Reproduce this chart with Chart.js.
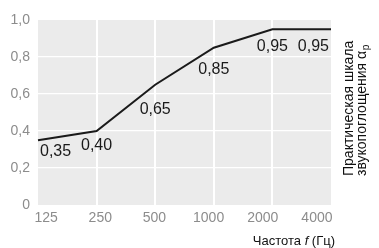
<!DOCTYPE html>
<html>
<head>
<meta charset="utf-8">
<script src="https://cdn.jsdelivr.net/npm/chart.js@4/dist/chart.umd.min.js"></script>
<style>
  html, body { margin: 0; padding: 0; background: #fff; }
  #wrap { width: 379px; height: 248px; position: relative; }
</style>
</head>
<body>
<div id="wrap"><canvas id="chart"></canvas></div>
<script>
// chart data
const frequencies = ["125", "250", "500", "1000", "2000", "4000"];
const absorption = [0.35, 0.40, 0.65, 0.85, 0.95, 0.95];
const yTickValues = [0, 0.2, 0.4, 0.6, 0.8, 1.0];

// texts
const xTitleParts = ["Частота ", "f", " (Гц)"];
const yTitleLines = ["Практическая шкала", "звукопоглощения α"];
const yTitleSub = "p";

const FONT = "'Liberation Sans', Arial, sans-serif";
const PLOT_BG = "#ebebeb";
const LINE_COLOR = "#1a1a1a";
const TICK_COLOR = "#8c8c8c";

const fmtComma = function (v) {
  return v === 0 ? "0" : v.toFixed(1).replace(".", ",");
};

// grey panel behind the grid
const panelPlugin = {
  id: "panel",
  beforeDraw: function (chart) {
    const a = chart.chartArea;
    const ctx = chart.ctx;
    ctx.save();
    ctx.fillStyle = PLOT_BG;
    ctx.fillRect(a.left, a.top, a.right - a.left, a.bottom - a.top);
    ctx.restore();
  },
};

// value labels under the line, pushed down until they clear it
const valueLabelPlugin = {
  id: "valueLabels",
  afterDatasetsDraw: function (chart) {
    const ctx = chart.ctx;
    const a = chart.chartArea;
    const xs = chart.scales.x;
    const ys = chart.scales.y;
    const pts = absorption.map(function (v, i) {
      return { x: xs.getPixelForValue(i), y: ys.getPixelForValue(v) };
    });
    const lineYAt = function (x) {
      for (let k = 0; k < pts.length - 1; k++) {
        const p = pts[k], q = pts[k + 1];
        if (x >= p.x && x <= q.x) {
          return p.y + (q.y - p.y) * (x - p.x) / (q.x - p.x);
        }
      }
      return x < pts[0].x ? pts[0].y : pts[pts.length - 1].y;
    };

    ctx.save();
    ctx.font = "16px " + FONT;
    ctx.fillStyle = LINE_COLOR;
    ctx.textAlign = "left";
    ctx.textBaseline = "alphabetic";
    const asc = ctx.measureText("0").actualBoundingBoxAscent;

    const boxes = absorption.map(function (v, i) {
      const txt = v.toFixed(2).replace(".", ",");
      const w = ctx.measureText(txt).width;
      let left = pts[i].x - w / 2;
      if (left < a.left + 2) left = a.left + 2;
      if (left + w > a.right - 2) left = a.right - 2 - w;
      let lowest = -Infinity;
      for (let x = left; x <= left + w; x += 0.5) {
        lowest = Math.max(lowest, lineYAt(x));
      }
      return { txt: txt, left: left, top: lowest + 4.5, v: v };
    });
    // equal values sit on one row
    boxes.forEach(function (b) {
      boxes.forEach(function (o) {
        if (o.v === b.v && o.top > b.top) b.top = o.top;
      });
    });
    boxes.forEach(function (b) {
      ctx.fillText(b.txt, b.left, b.top + asc);
    });
    ctx.restore();
  },
};

// axis titles: bottom-right x title, rotated title on the right
const titlePlugin = {
  id: "titles",
  afterDraw: function (chart) {
    const ctx = chart.ctx;
    const a = chart.chartArea;
    ctx.save();
    ctx.fillStyle = "#111";
    ctx.textBaseline = "alphabetic";

    // x title, right aligned near the plot's right edge
    const normal = "13px " + FONT;
    const italic = "italic 13px " + FONT;
    ctx.font = normal;
    const w0 = ctx.measureText(xTitleParts[0]).width;
    const w2 = ctx.measureText(xTitleParts[2]).width;
    ctx.font = italic;
    const w1 = ctx.measureText(xTitleParts[1]).width;
    let x = a.right + 4 - (w0 + w1 + w2);
    const yb = 245;
    ctx.font = normal;
    ctx.fillText(xTitleParts[0], x, yb);
    x += w0;
    ctx.font = italic;
    ctx.fillText(xTitleParts[1], x, yb);
    x += w1;
    ctx.font = normal;
    ctx.fillText(xTitleParts[2], x, yb);

    // rotated title
    ctx.translate(a.right, 176);
    ctx.rotate(-Math.PI / 2);
    ctx.font = "14px " + FONT;
    ctx.fillText(yTitleLines[0], 0, 22);
    ctx.fillText(yTitleLines[1], 0, 34.5);
    const ws = ctx.measureText(yTitleLines[1]).width;
    ctx.font = "10px " + FONT;
    ctx.fillText(yTitleSub, ws + 0.5, 37.5);
    ctx.restore();
  },
};

const ctx = document.getElementById("chart").getContext("2d");

new Chart(ctx, {
  type: "line",
  data: {
    labels: frequencies,
    datasets: [
      {
        data: absorption,
        borderColor: LINE_COLOR,
        borderWidth: 2,
        pointRadius: 0,
        tension: 0,
        fill: false,
      },
    ],
  },
  options: {
    responsive: true,
    maintainAspectRatio: false,
    animation: false,
    events: [],
    layout: { padding: { left: 0, right: 48, top: 20, bottom: 0 } },
    plugins: {
      legend: { display: false },
      tooltip: { enabled: false },
    },
    scales: {
      // category axis: places the points and draws the white grid
      x: {
        type: "category",
        offset: false,
        border: { display: false },
        grid: {
          drawTicks: false,
          lineWidth: 2,
          color: function (c) {
            return c.index === 0 || c.index === frequencies.length - 1 ? "rgba(0,0,0,0)" : "#ffffff";
          },
        },
        ticks: { display: false },
        afterFit: function (scale) {
          scale.height = 0;
        },
      },
      // label axis for the frequency tick texts
      xl: {
        type: "linear",
        position: "bottom",
        min: -0.15,
        max: 5.26,
        border: { display: false },
        grid: { display: false, drawTicks: false },
        ticks: {
          color: TICK_COLOR,
          font: { family: FONT, size: 14 },
          padding: 5,
          maxRotation: 0,
          autoSkip: false,
          includeBounds: false,
          callback: function (v) {
            return frequencies[v];
          },
        },
        afterBuildTicks: function (scale) {
          scale.ticks = frequencies.map(function (f, i) {
            return { value: i };
          });
        },
        afterFit: function (scale) {
          scale.height = 43;
        },
      },
      y: {
        min: 0,
        max: 1,
        border: { display: false },
        grid: {
          drawTicks: false,
          lineWidth: 1.3,
          color: function (c) {
            return c.tick.value === 0 || c.tick.value === 1 ? "rgba(0,0,0,0)" : "#ffffff";
          },
        },
        ticks: {
          color: TICK_COLOR,
          font: { family: FONT, size: 14 },
          padding: 8,
          callback: fmtComma,
        },
        afterBuildTicks: function (scale) {
          scale.ticks = yTickValues.map(function (v) {
            return { value: v };
          });
        },
        afterFit: function (scale) {
          scale.width = 38;
        },
      },
    },
  },
  plugins: [panelPlugin, valueLabelPlugin, titlePlugin],
});
</script>
</body>
</html>
